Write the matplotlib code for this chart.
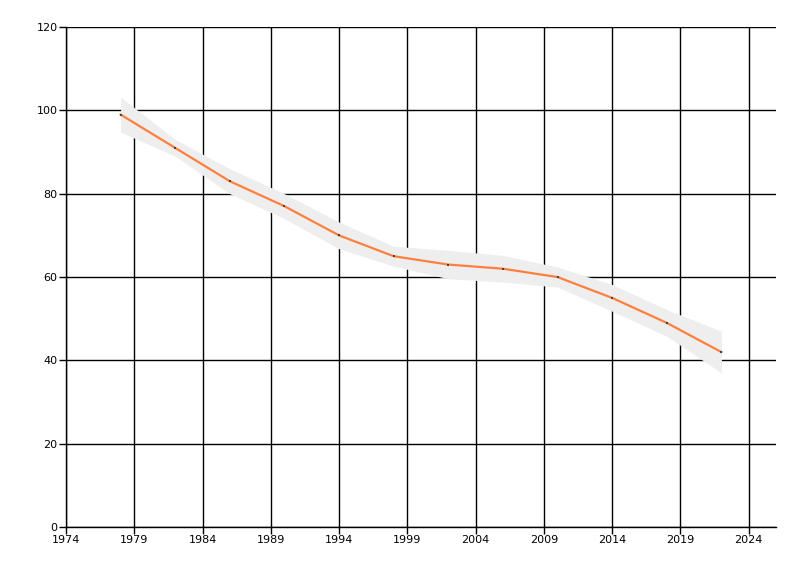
import matplotlib.pyplot as plt

years = [1978, 1982, 1986, 1990, 1994, 1998, 2002, 2006, 2010, 2014, 2018, 2022]
values = [99, 91, 83, 77, 70, 65, 63, 62, 60, 55, 49, 42]
band_upper = [103.2, 93.0, 86.0, 80.0, 73.2, 67.4, 66.4, 65.2, 62.4, 58.2, 52.2, 47.0]
band_lower = [94.8, 89.0, 80.0, 74.0, 66.8, 62.6, 59.6, 58.8, 57.6, 51.8, 45.8, 37.0]

x_ticks = [1974, 1979, 1984, 1989, 1994, 1999, 2004, 2009, 2014, 2019, 2024]
y_ticks = [0, 20, 40, 60, 80, 100, 120]

fig = plt.figure(figsize=(8, 5.76), dpi=100)
ax = fig.add_axes([0.0825, 0.085, 0.8875, 0.868])

# confidence band
ax.fill_between(years, band_lower, band_upper, color="#eeeeee", linewidth=0, zorder=2)

# trend line with small dots
ax.plot(years, values, color="#ff7f3f", linewidth=1.6, zorder=3)
ax.plot(years, values, linestyle="none", marker="s", markersize=1.6,
        color="#444444", markeredgewidth=0, zorder=4)

ax.set_xlim(1974, 2026)
ax.set_ylim(0, 120)
ax.set_xticks(x_ticks)
ax.set_yticks(y_ticks)
ax.grid(True, color="black", linewidth=1)
ax.set_axisbelow(True)

for side in ["top", "right"]:
    ax.spines[side].set_visible(False)
for side in ["left", "bottom"]:
    ax.spines[side].set_color("black")
    ax.spines[side].set_linewidth(1)

ax.tick_params(axis="both", direction="out", length=5, width=1,
               labelsize=8, colors="black", pad=1)
for lbl in ax.get_xticklabels() + ax.get_yticklabels():
    lbl.set_fontfamily("DejaVu Sans")

plt.savefig("out.png", dpi=100)
